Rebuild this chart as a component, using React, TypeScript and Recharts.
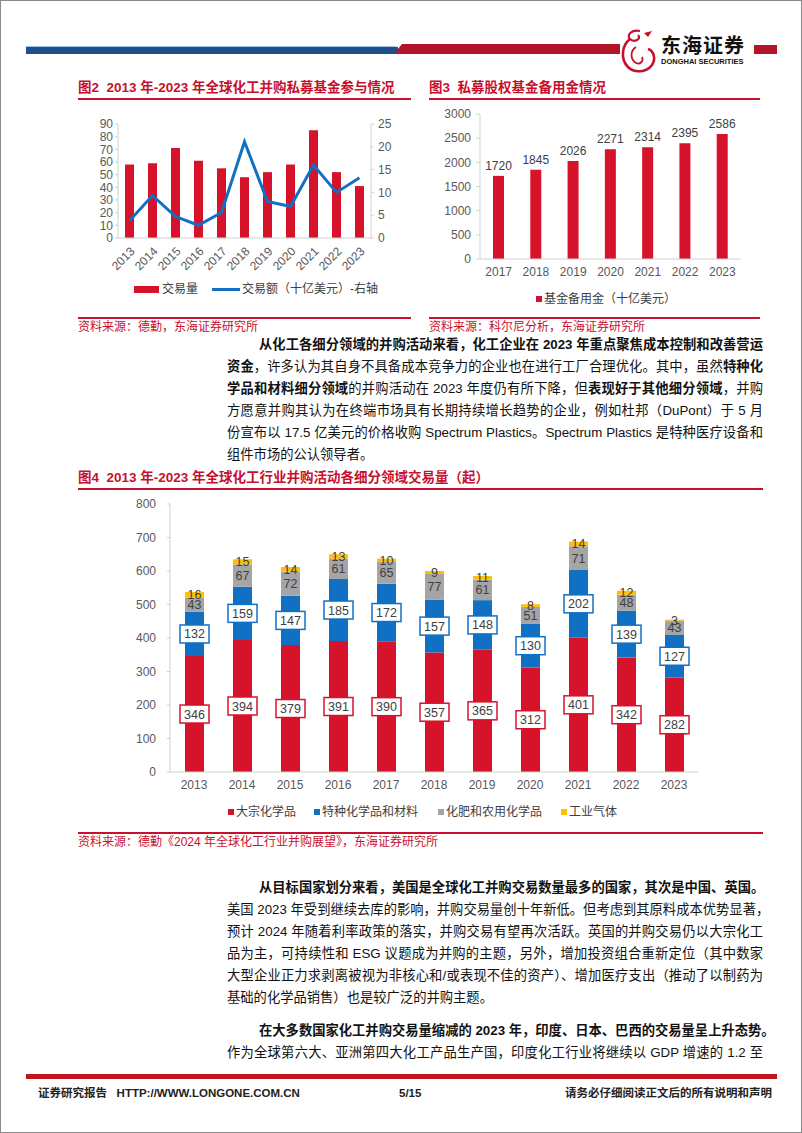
import { BarChart, Bar, ComposedChart, Line, XAxis, YAxis, LabelList } from "recharts"

// fig 2: PE fund participation in chemical M&A
const peYears = ["2013", "2014", "2015", "2016", "2017", "2018", "2019", "2020", "2021", "2022", "2023"]
const peDealCount = [58, 59, 71, 61, 55, 48, 52, 58, 85, 52, 41]
const peDealValue = [3.8, 9.3, 4.7, 2.8, 5.6, 21.1, 8.0, 6.9, 16.0, 10.0, 13.2]
const peLeftTicks = [0, 10, 20, 30, 40, 50, 60, 70, 80, 90]
const peRightTicks = [0, 5, 10, 15, 20, 25]

// fig 3: PE dry powder
const dryYears = ["2017", "2018", "2019", "2020", "2021", "2022", "2023"]
const dryPowder = [1720, 1845, 2026, 2271, 2314, 2395, 2586]
const dryTicks = [0, 500, 1000, 1500, 2000, 2500, 3000]

// fig 4: deals by segment
const segYears = ["2013", "2014", "2015", "2016", "2017", "2018", "2019", "2020", "2021", "2022", "2023"]
const commodity = [346, 394, 379, 391, 390, 357, 365, 312, 401, 342, 282]
const specialty = [132, 159, 147, 185, 172, 157, 148, 130, 202, 139, 127]
const agro = [43, 67, 72, 61, 65, 77, 61, 51, 71, 48, 43]
const gases = [16, 15, 14, 13, 10, 9, 11, 8, 14, 12, 3]
const segTicks = [0, 100, 200, 300, 400, 500, 600, 700, 800]

const peData = peYears.map((year, i) => ({ year, count: peDealCount[i], value: peDealValue[i] }))
const dryData = dryYears.map((year, i) => ({ year, cash: dryPowder[i] }))
const segData = segYears.map((year, i) => ({
  year,
  commodity: commodity[i],
  specialty: specialty[i],
  agro: agro[i],
  gases: gases[i],
}))

const FONT = '"Liberation Sans", Arial, "Noto Sans CJK SC", sans-serif'
const TITLE_RED = "#C8102E"
const BAR_RED = "#D7132B"
const BLUE = "#1070C4"
const AXIS = "#D0D0D0"
const TICK12 = { fontSize: 12, fill: "#595959", fontFamily: FONT }

const abs = (left: number, top: number, extra: any = {}) => ({ position: "absolute" as const, left, top, ...extra })

function Title({ left, top, width, text }: { left: number; top: number; width: number; text: string }) {
  return (
    <>
      <div style={abs(left, top, { height: 20, lineHeight: "20px", fontSize: 13.5, fontWeight: 700, color: TITLE_RED, whiteSpace: "pre" })}>
        {text}
      </div>
      <div style={abs(left, top + 20, { width, height: 2, background: TITLE_RED })} />
    </>
  )
}

function Source({ left, top, width, text }: { left: number; top: number; width: number; text: string }) {
  return (
    <>
      <div style={abs(left, top, { width, height: 1.5, background: TITLE_RED })} />
      <div style={abs(left, top + 2, { height: 16, lineHeight: "16px", fontSize: 12, color: TITLE_RED, whiteSpace: "nowrap" })}>
        {text}
      </div>
    </>
  )
}

function TextLine({ top, indent, last, children }: { top: number; indent?: boolean; last?: boolean; children: any }) {
  return (
    <div
      style={abs(226, top - 11, {
        width: indent ? 504 : 536,
        paddingLeft: indent ? 32 : 0,
        height: 22,
        lineHeight: "22px",
        fontSize: 13.3,
        color: "#111",
        whiteSpace: "nowrap",
        textAlign: last ? "left" : "justify",
        textAlignLast: last ? "left" : "justify",
      })}
    >
      {children}
    </div>
  )
}

const B = ({ children }: { children: any }) => <b style={{ fontWeight: 700 }}>{children}</b>

const boxLabel = (color: string) => (props: any) => {
  const { x, y, width, height, value } = props
  const cx = Number(x) + Number(width) / 2
  const cy = Number(y) + Number(height) / 2
  return (
    <g>
      <rect x={cx - 14.5} y={cy - 9} width={29} height={18} fill="#fff" stroke={color} strokeWidth={1.5} />
      <text x={cx} y={cy} dy="0.36em" textAnchor="middle" fontSize={12.5} fill="#404040" fontFamily={FONT}>
        {value}
      </text>
    </g>
  )
}

function Logo() {
  return (
    <>
      <svg style={abs(617, 26)} width={42} height={48} viewBox="0 0 42 48">
        <path d="M22 4 C14 2 8 8 12 12 C16 16 24 12 20 8" fill="none" stroke="#C8102E" strokeWidth={2.2} />
        <path d="M12 12 C4 18 2 32 10 40 C16 46 28 46 34 38 C38 32 36 24 30 22" fill="none" stroke="#C8102E" strokeWidth={2.6} />
        <path d="M18 20 C12 24 12 32 18 36 C22 38 26 34 24 30" fill="none" stroke="#C8102E" strokeWidth={1.8} />
        <path d="M26 6 L34 4 L30 10 Z" fill="#C8102E" />
      </svg>
      <div style={abs(660, 33, { fontSize: 20, fontWeight: 700, lineHeight: "24px", color: "#111", letterSpacing: 1 })}>东海证券</div>
      <div style={abs(660, 56, { fontSize: 7.5, fontWeight: 700, lineHeight: "9px", color: "#111", whiteSpace: "nowrap" })}>
        DONGHAI SECURITIES
      </div>
    </>
  )
}

export default function App() {
  return (
    <div
      style={{
        position: "absolute",
        left: 0,
        top: 0,
        width: 802,
        height: 1133,
        background: "#fff",
        border: "1px solid #8a8a8a",
        boxSizing: "border-box",
        fontFamily: FONT,
        overflow: "hidden",
      }}
    >
      {/* header */}
      <div style={abs(25, 45, { width: 370, height: 1, background: "#9DC3E6" })} />
      <div style={abs(25, 46, { width: 372, height: 7, background: "#1F4E8C" })} />
      <svg style={abs(393, 43)} width={226} height={11}>
        <polygon points="0,10 8,0 226,0 226,10" fill="#B2142A" />
      </svg>
      <Logo />
      <div style={abs(753, 44, { width: 23, height: 9, background: "#B2142A" })} />

      {/* fig 2 */}
      <Title left={77} top={77} width={333} text="图2  2013 年-2023 年全球化工并购私募基金参与情况" />
      <div style={abs(77, 105)}>
        <ComposedChart width={330} height={170} data={peData} margin={{ top: 18, right: 0, bottom: 0, left: 0 }}>
          <XAxis
            dataKey="year"
            height={38}
            interval={0}
            angle={-45}
            textAnchor="end"
            tick={TICK12}
            axisLine={{ stroke: AXIS }}
            tickLine={false}
          />
          <YAxis
            yAxisId="left"
            width={40}
            domain={[0, 90]}
            ticks={peLeftTicks}
            interval={0}
            tick={TICK12}
            axisLine={{ stroke: AXIS }}
            tickLine={{ stroke: AXIS }}
            tickSize={3}
            tickMargin={2}
          />
          <YAxis
            yAxisId="right"
            orientation="right"
            width={37}
            domain={[0, 25]}
            ticks={peRightTicks}
            interval={0}
            tick={TICK12}
            axisLine={{ stroke: AXIS }}
            tickLine={{ stroke: AXIS }}
            tickSize={3}
            tickMargin={4}
          />
          <Bar yAxisId="left" dataKey="count" fill={BAR_RED} barSize={9} isAnimationActive={false} />
          <Line
            yAxisId="right"
            dataKey="value"
            type="linear"
            stroke={BLUE}
            strokeWidth={3}
            dot={false}
            isAnimationActive={false}
          />
        </ComposedChart>
      </div>
      <div style={abs(133, 285, { width: 25, height: 7, background: BAR_RED })} />
      <div style={abs(161, 280, { fontSize: 12, lineHeight: "16px", color: "#404040" })}>交易量</div>
      <div style={abs(211, 287, { width: 28, height: 3, background: BLUE })} />
      <div style={abs(241, 280, { fontSize: 12, lineHeight: "16px", color: "#404040", whiteSpace: "nowrap" })}>
        交易额（十亿美元）-右轴
      </div>
      <Source left={77} top={316} width={333} text="资料来源：德勤，东海证券研究所" />

      {/* fig 3 */}
      <Title left={428} top={77} width={331} text="图3  私募股权基金备用金情况" />
      <div style={abs(428, 95)}>
        <BarChart width={330} height={190} data={dryData} margin={{ top: 18, right: 18, bottom: 0, left: 0 }}>
          <XAxis dataKey="year" height={27} interval={0} tick={TICK12} axisLine={{ stroke: AXIS }} tickLine={false} />
          <YAxis
            width={51}
            domain={[0, 3000]}
            ticks={dryTicks}
            interval={0}
            tick={TICK12}
            axisLine={{ stroke: AXIS }}
            tickLine={{ stroke: AXIS }}
            tickSize={4}
            tickMargin={5}
          />
          <Bar dataKey="cash" fill={BAR_RED} barSize={11} isAnimationActive={false}>
            <LabelList dataKey="cash" position="top" offset={6} fontSize={12} fill="#404040" fontFamily={FONT} />
          </Bar>
        </BarChart>
      </div>
      <div style={abs(535, 295, { width: 6, height: 6, background: BAR_RED })} />
      <div style={abs(543, 290, { fontSize: 12, lineHeight: "16px", color: "#404040", whiteSpace: "nowrap" })}>
        基金备用金（十亿美元）
      </div>
      <Source left={428} top={316} width={331} text="资料来源：科尔尼分析，东海证券研究所" />

      {/* paragraph 1 */}
      <TextLine top={344} indent>
        <B>从化工各细分领域的并购活动来看，化工企业在 2023 年重点聚焦成本控制和改善营运</B>
      </TextLine>
      <TextLine top={366}>
        <B>资金</B>，许多认为其自身不具备成本竞争力的企业也在进行工厂合理优化。其中，虽然<B>特种化</B>
      </TextLine>
      <TextLine top={388}>
        <B>学品和材料细分领域</B>的并购活动在 2023 年度仍有所下降，但<B>表现好于其他细分领域</B>，并购
      </TextLine>
      <TextLine top={410}>方愿意并购其认为在终端市场具有长期持续增长趋势的企业，例如杜邦（DuPont）于 5 月</TextLine>
      <TextLine top={432}>份宣布以 17.5 亿美元的价格收购 Spectrum Plastics。Spectrum Plastics 是特种医疗设备和</TextLine>
      <TextLine top={454} last>
        组件市场的公认领导者。
      </TextLine>

      {/* fig 4 */}
      <Title left={77} top={467} width={685} text="图4  2013 年-2023 年全球化工行业并购活动各细分领域交易量（起）" />
      <div style={abs(100, 490)}>
        <BarChart width={620} height={310} data={segData} margin={{ top: 13, right: 23, bottom: 0, left: 0 }}>
          <XAxis dataKey="year" height={29} interval={0} tick={TICK12} axisLine={{ stroke: AXIS }} tickLine={false} />
          <YAxis
            width={69}
            domain={[0, 800]}
            ticks={segTicks}
            interval={0}
            tick={TICK12}
            axisLine={{ stroke: AXIS }}
            tickLine={{ stroke: AXIS }}
            tickSize={3}
            tickMargin={11}
          />
          <Bar dataKey="commodity" stackId="a" fill={BAR_RED} barSize={19} isAnimationActive={false}>
            <LabelList dataKey="commodity" content={boxLabel(BAR_RED)} />
          </Bar>
          <Bar dataKey="specialty" stackId="a" fill={BLUE} barSize={19} isAnimationActive={false}>
            <LabelList dataKey="specialty" content={boxLabel(BLUE)} />
          </Bar>
          <Bar dataKey="agro" stackId="a" fill="#A5A5A5" barSize={19} isAnimationActive={false}>
            <LabelList dataKey="agro" position="center" fontSize={12.5} fill="#404040" fontFamily={FONT} />
          </Bar>
          <Bar dataKey="gases" stackId="a" fill="#FFC000" barSize={19} isAnimationActive={false}>
            <LabelList dataKey="gases" position="center" fontSize={12.5} fill="#404040" fontFamily={FONT} />
          </Bar>
        </BarChart>
      </div>
      <div style={abs(227, 808, { width: 6, height: 6, background: BAR_RED })} />
      <div style={abs(235, 803, { fontSize: 12, lineHeight: "16px", color: "#404040" })}>大宗化学品</div>
      <div style={abs(313, 808, { width: 6, height: 6, background: BLUE })} />
      <div style={abs(321, 803, { fontSize: 12, lineHeight: "16px", color: "#404040" })}>特种化学品和材料</div>
      <div style={abs(437, 808, { width: 6, height: 6, background: "#A5A5A5" })} />
      <div style={abs(445, 803, { fontSize: 12, lineHeight: "16px", color: "#404040" })}>化肥和农用化学品</div>
      <div style={abs(560, 808, { width: 6, height: 6, background: "#FFC000" })} />
      <div style={abs(568, 803, { fontSize: 12, lineHeight: "16px", color: "#404040" })}>工业气体</div>
      <Source left={77} top={831} width={685} text="资料来源：德勤《2024 年全球化工行业并购展望》，东海证券研究所" />

      {/* paragraph 2 */}
      <TextLine top={887} indent>
        <B>从目标国家划分来看，美国是全球化工并购交易数量最多的国家，其次是中国、英国。</B>
      </TextLine>
      <TextLine top={909}>美国 2023 年受到继续去库的影响，并购交易量创十年新低。但考虑到其原料成本优势显著，</TextLine>
      <TextLine top={931}>预计 2024 年随着利率政策的落实，并购交易有望再次活跃。英国的并购交易仍以大宗化工</TextLine>
      <TextLine top={953}>品为主，可持续性和 ESG 议题成为并购的主题，另外，增加投资组合重新定位（其中数家</TextLine>
      <TextLine top={975}>大型企业正力求剥离被视为非核心和/或表现不佳的资产）、增加医疗支出（推动了以制药为</TextLine>
      <TextLine top={997} last>
        基础的化学品销售）也是较广泛的并购主题。
      </TextLine>

      {/* paragraph 3 */}
      <TextLine top={1030} indent>
        <B>在大多数国家化工并购交易量缩减的 2023 年，印度、日本、巴西的交易量呈上升态势。</B>
      </TextLine>
      <TextLine top={1052}>作为全球第六大、亚洲第四大化工产品生产国，印度化工行业将继续以 GDP 增速的 1.2 至</TextLine>

      {/* footer */}
      <div style={abs(25, 1073, { width: 751, height: 5, background: "#C0141F" })} />
      <div style={abs(37, 1084, { fontSize: 11.5, fontWeight: 700, lineHeight: "16px", color: "#222", whiteSpace: "pre" })}>
        {"证券研究报告   HTTP://WWW.LONGONE.COM.CN"}
      </div>
      <div style={abs(398, 1084, { fontSize: 11.5, fontWeight: 700, lineHeight: "16px", color: "#222" })}>5/15</div>
      <div style={abs(560, 1084, { width: 211, textAlign: "right", fontSize: 11.5, fontWeight: 700, lineHeight: "16px", color: "#222", whiteSpace: "nowrap" })}>
        请务必仔细阅读正文后的所有说明和声明
      </div>
    </div>
  )
}
